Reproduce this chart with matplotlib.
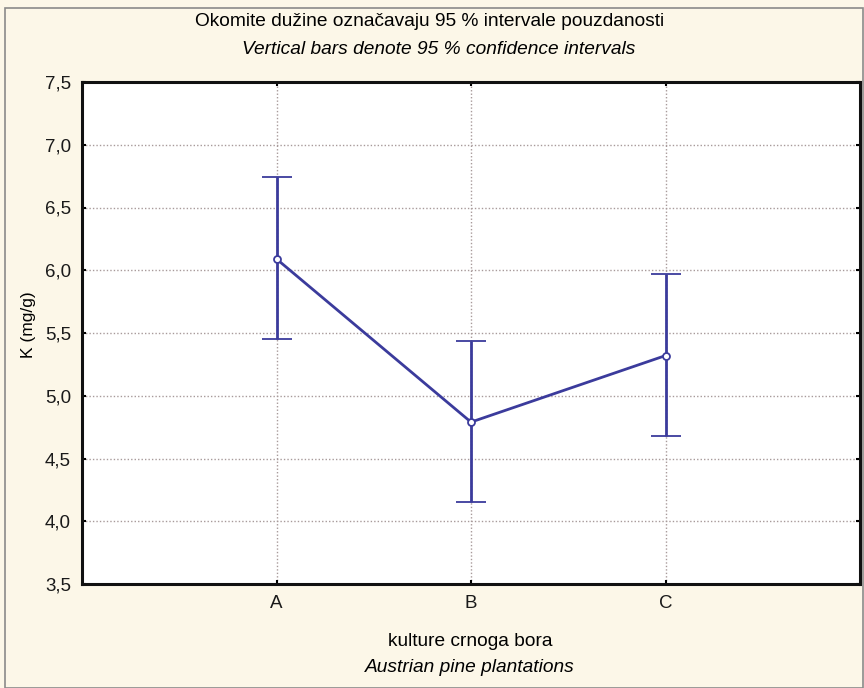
import matplotlib
matplotlib.use("Agg")
import matplotlib.pyplot as plt
from matplotlib.patches import Rectangle

categories = ["A", "B", "C"]
means = [6.09, 4.79, 5.32]
upper = [6.74, 5.44, 5.97]
lower = [5.45, 4.15, 4.68]
yticks = [3.5, 4.0, 4.5, 5.0, 5.5, 6.0, 6.5, 7.0, 7.5]
ytick_labels = ["3,5", "4,0", "4,5", "5,0", "5,5", "6,0", "6,5", "7,0", "7,5"]

plt.rcParams['font.family'] = ['Liberation Sans', 'DejaVu Sans']

fig = plt.figure(figsize=(8.64, 6.88), dpi=100)
fig.patch.set_facecolor('#FCF7E8')
fig.patches.append(Rectangle((5/864, 0), 1 - 5/864 - 0.001, 1 - 8/688, transform=fig.transFigure,
                             fill=False, edgecolor='#8a8a8a', linewidth=1.2))

ax = fig.add_axes([82/864, 1 - 584/688, 778/864, 502/688])
ax.set_facecolor('white')
x = list(range(len(categories)))
col = '#3B3B9C'
yerr = [[m - l for m, l in zip(means, lower)], [u - m for m, u in zip(means, upper)]]
ax.errorbar(x, means, yerr=yerr, color=col, linewidth=2, capsize=11, capthick=2,
            marker='o', markersize=5, markerfacecolor='white', markeredgecolor=col,
            markeredgewidth=1.3, zorder=3)

ax.set_xlim(-1, 3)
ax.set_ylim(3.5, 7.5)
ax.set_xticks(x)
ax.set_xticklabels(categories, fontsize=13.5)
ax.set_yticks(yticks)
ax.set_yticklabels(ytick_labels, fontsize=13.5)
ax.tick_params(direction='in', length=3, width=1.5, top=True, right=True, pad=8, labelcolor='#1a1a1a')
ax.grid(True, linestyle=(0, (1, 1.5)), color='#a89a9a', linewidth=1)
for s in ax.spines.values():
    s.set_linewidth(2.2)
    s.set_color('#111111')

fig.text(28/864, 1 - 325/688, "K (mg/g)", rotation=90, ha='center', va='center', fontsize=12.5)

fig.text(430/864, 1 - 21/688, "Okomite dužine označavaju 95 % intervale pouzdanosti",
         ha='center', va='center', fontsize=13.8)
fig.text(439/864, 1 - 49/688, "Vertical bars denote 95 % confidence intervals",
         ha='center', va='center', fontsize=13.8, style='italic')
fig.text(470/864, 1 - 642/688, "kulture crnoga bora", ha='center', va='center', fontsize=13.8)
fig.text(470/864, 1 - 668/688, "Austrian pine plantations", ha='center', va='center',
         fontsize=13.8, style='italic')

fig.savefig("out.png", dpi=100, facecolor=fig.get_facecolor())
